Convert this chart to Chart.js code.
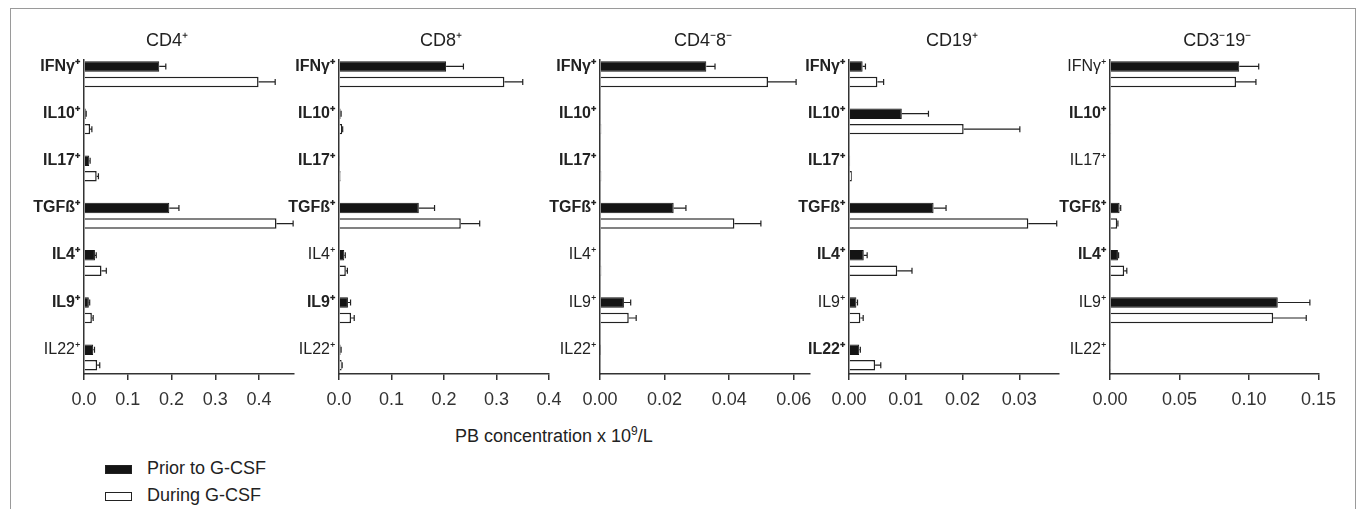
<!DOCTYPE html>
<html>
<head>
<meta charset="utf-8">
<script src="https://cdn.jsdelivr.net/npm/chart.js@4.4.1/dist/chart.umd.min.js"></script>
<style>
  body { margin: 0; background: #fff; }
  #wrap { position: relative; width: 1358px; height: 509px; overflow: hidden; background: #fff;
          font-family: "Liberation Sans", Arial, sans-serif; color: #222; }
  #frame { position: absolute; left: 10px; top: 8px; width: 1346px; height: 600px;
           box-sizing: border-box; border: 1.5px solid #9a9a9a; }
  canvas { position: absolute; top: 0; }
  #xtitle { position: absolute; left: 455px; top: 424px; font-size: 18px; white-space: nowrap; }
  #xtitle sup { font-size: 12px; }
  #legend { position: absolute; left: 105px; top: 455px; font-size: 18px; }
  .row { height: 27px; line-height: 27px; white-space: nowrap; }
  .sw { display: inline-block; width: 27px; height: 9px; box-sizing: border-box;
        border: 1.5px solid #222; margin-right: 15px; vertical-align: middle; }
</style>
</head>
<body>
<div id="wrap">
  <div id="frame"></div>
  <div id="xtitle">PB concentration x 10<sup>9</sup>/L</div>
  <div id="legend"></div>
</div>
<script>
// categories and series
var categories = ['IFNγ⁺', 'IL10⁺', 'IL17⁺', 'TGFß⁺', 'IL4⁺', 'IL9⁺', 'IL22⁺'];
var seriesNames = ['Prior to G-CSF', 'During G-CSF'];

// CD4+
var cd4Prior     = [0.172, 0.004, 0.012, 0.195, 0.025, 0.011, 0.021];
var cd4PriorErr  = [0.015, 0.001, 0.002, 0.022, 0.003, 0.002, 0.003];
var cd4During    = [0.399, 0.014, 0.029, 0.440, 0.040, 0.018, 0.030];
var cd4DuringErr = [0.038, 0.004, 0.004, 0.038, 0.011, 0.003, 0.006];
var cd4Bold      = [1, 1, 1, 1, 1, 1, 0];
var cd4Ticks     = [0, 0.1, 0.2, 0.3, 0.4];

// CD8+
var cd8Prior     = [0.204, 0.003, 0.001, 0.152, 0.010, 0.017, 0.003];
var cd8PriorErr  = [0.033, 0.001, 0, 0.030, 0.002, 0.005, 0.001];
var cd8During    = [0.315, 0.006, 0.003, 0.232, 0.013, 0.023, 0.005];
var cd8DuringErr = [0.035, 0.001, 0, 0.036, 0.003, 0.006, 0.001];
var cd8Bold      = [1, 1, 1, 1, 0, 1, 0];
var cd8Ticks     = [0, 0.1, 0.2, 0.3, 0.4];

// CD4-8-
var dnPrior      = [0.0329, 0.0002, 0.0002, 0.0228, 0.0003, 0.0074, 0.0001];
var dnPriorErr   = [0.0027, 0, 0, 0.0038, 0, 0.0021, 0];
var dnDuring     = [0.0520, 0.0004, 0.0004, 0.0416, 0.0004, 0.0089, 0.0002];
var dnDuringErr  = [0.0087, 0, 0, 0.0082, 0, 0.0023, 0];
var dnBold       = [1, 1, 1, 1, 0, 0, 0];
var dnTicks      = [0, 0.02, 0.04, 0.06];

// CD19+
var cd19Prior     = [0.0024, 0.0093, 0.0002, 0.0149, 0.0026, 0.0013, 0.0018];
var cd19PriorErr  = [0.0005, 0.0047, 0, 0.0022, 0.0006, 0.0002, 0.0002];
var cd19During    = [0.0050, 0.0202, 0.0005, 0.0316, 0.0085, 0.0020, 0.0046];
var cd19DuringErr = [0.0011, 0.0099, 0, 0.0050, 0.0026, 0.0005, 0.0010];
var cd19Bold      = [1, 1, 1, 1, 1, 0, 1];
var cd19Ticks     = [0, 0.01, 0.02, 0.03];

// CD3-19-
var nkPrior      = [0.093, 0.0005, 0, 0.0069, 0.0057, 0.1207, 0.0005];
var nkPriorErr   = [0.014, 0, 0, 0.0008, 0.0005, 0.0231, 0];
var nkDuring     = [0.0907, 0.0008, 0, 0.0052, 0.0102, 0.1174, 0.0008];
var nkDuringErr  = [0.0143, 0, 0, 0.0005, 0.0019, 0.0238, 0];
var nkBold       = [0, 1, 0, 1, 1, 0, 0];
var nkTicks      = [0, 0.05, 0.10, 0.15];

Chart.defaults.font.family = '"Liberation Sans", Arial, sans-serif';
Chart.defaults.color = '#222';

var panels = [
  { title: 'CD4⁺',    left: 84,    dx: -22, max: 0.48,  dec: 1, ticks: cd4Ticks,  bold: cd4Bold,
    prior: cd4Prior, priorErr: cd4PriorErr, during: cd4During, duringErr: cd4DuringErr },
  { title: 'CD8⁺',    left: 338.7, dx: -3,  max: 0.4,   dec: 1, ticks: cd8Ticks,  bold: cd8Bold,
    prior: cd8Prior, priorErr: cd8PriorErr, during: cd8During, duringErr: cd8DuringErr },
  { title: 'CD4⁻8⁻',  left: 600,   dx: -2,  max: 0.065, dec: 2, ticks: dnTicks,   bold: dnBold,
    prior: dnPrior, priorErr: dnPriorErr, during: dnDuring, duringErr: dnDuringErr },
  { title: 'CD19⁺',   left: 849.3, dx: -2,  max: 0.037, dec: 2, ticks: cd19Ticks, bold: cd19Bold,
    prior: cd19Prior, priorErr: cd19PriorErr, during: cd19During, duringErr: cd19DuringErr },
  { title: 'CD3⁻19⁻', left: 1109.7, dx: 3,  max: 0.15,  dec: 2, ticks: nkTicks,   bold: nkBold,
    prior: nkPrior, priorErr: nkPriorErr, during: nkDuring, duringErr: nkDuringErr }
];

var Y_AXIS_W = 80, PLOT_W = 210, PAD_R = 25, CANVAS_H = 420;

// whiskers drawn to the right of each bar
var errorBars = {
  id: 'errorBars',
  afterDatasetsDraw: function(chart) {
    var ctx = chart.ctx, xs = chart.scales.x;
    chart.data.datasets.forEach(function(ds, di) {
      var meta = chart.getDatasetMeta(di);
      meta.data.forEach(function(bar, i) {
        var err = ds.errors[i];
        if (!err) return;
        var x1 = xs.getPixelForValue(ds.data[i].x + err);
        ctx.save();
        ctx.strokeStyle = '#222';
        ctx.lineWidth = 1.2;
        ctx.beginPath();
        ctx.moveTo(bar.x, bar.y);
        ctx.lineTo(x1, bar.y);
        ctx.moveTo(x1, bar.y - 3);
        ctx.lineTo(x1, bar.y + 3);
        ctx.stroke();
        ctx.restore();
      });
    });
  }
};

var panelTitle = {
  id: 'panelTitle',
  afterDraw: function(chart, args, opts) {
    var a = chart.chartArea, ctx = chart.ctx;
    ctx.save();
    ctx.font = '18px "Liberation Sans", Arial, sans-serif';
    ctx.fillStyle = '#222';
    ctx.textAlign = 'center';
    ctx.textBaseline = 'middle';
    ctx.fillText(opts.text, (a.left + a.right) / 2 + opts.dx, 41);
    ctx.restore();
  }
};

function toPoints(values) {
  return values.map(function(v, i) { return { x: v, y: i }; });
}

panels.forEach(function(p) {
  var canvas = document.createElement('canvas');
  canvas.width = Y_AXIS_W + PLOT_W + PAD_R;
  canvas.height = CANVAS_H;
  canvas.style.left = (p.left - Y_AXIS_W) + 'px';
  document.getElementById('wrap').appendChild(canvas);

  new Chart(canvas.getContext('2d'), {
    type: 'bar',
    data: {
      datasets: [
        {
          label: seriesNames[0],
          data: toPoints(p.prior),
          errors: p.priorErr,
          backgroundColor: '#141414',
          borderColor: '#141414',
          borderWidth: 1
        },
        {
          label: seriesNames[1],
          data: toPoints(p.during),
          errors: p.duringErr,
          backgroundColor: '#ffffff',
          borderColor: '#222',
          borderWidth: 1.5
        }
      ]
    },
    options: {
      responsive: false,
      animation: false,
      indexAxis: 'y',
      categoryPercentage: 0.656,
      barPercentage: 0.677,
      layout: { padding: { top: 60, right: PAD_R, left: 0, bottom: 0 } },
      plugins: {
        legend: { display: false },
        tooltip: { enabled: false },
        panelTitle: { text: p.title, dx: p.dx }
      },
      scales: {
        x: {
          type: 'linear',
          min: 0,
          max: p.max,
          offset: false,
          afterBuildTicks: function(s) { s.ticks = p.ticks.map(function(v) { return { value: v }; }); },
          afterFit: function(s) { s.height = CANVAS_H - 374; },
          ticks: {
            callback: function(v) { return Number(v).toFixed(p.dec); },
            font: { size: 18 },
            color: '#333',
            padding: 9,
            maxRotation: 0,
            autoSkip: false
          },
          grid: { display: true, drawOnChartArea: false, drawTicks: true, tickLength: 6, color: '#333', lineWidth: 1.5 },
          border: { display: true, color: '#333', width: 1.5 }
        },
        y: {
          // linear index axis so the bar pairs sit where they do in the figure
          type: 'linear',
          reverse: true,
          min: -0.3,
          max: 6.35,
          offset: false,
          afterBuildTicks: function(s) { s.ticks = categories.map(function(c, i) { return { value: i }; }); },
          afterFit: function(s) { s.width = Y_AXIS_W; },
          ticks: {
            callback: function(v) { return categories[v]; },
            font: function(ctx) { return { size: 16, weight: p.bold[ctx.index] ? 'bold' : 'normal' }; },
            color: '#222',
            padding: 4,
            labelOffset: -8,
            autoSkip: false
          },
          grid: { display: false, drawTicks: false, offset: false },
          border: { display: true, color: '#333', width: 1.5 }
        }
      }
    },
    plugins: [errorBars, panelTitle]
  });
});

// legend
var legend = document.getElementById('legend');
seriesNames.forEach(function(name, i) {
  var row = document.createElement('div');
  row.className = 'row';
  var sw = document.createElement('span');
  sw.className = 'sw';
  sw.style.background = i === 0 ? '#141414' : '#fff';
  row.appendChild(sw);
  row.appendChild(document.createTextNode(name));
  legend.appendChild(row);
});
</script>
</body>
</html>
